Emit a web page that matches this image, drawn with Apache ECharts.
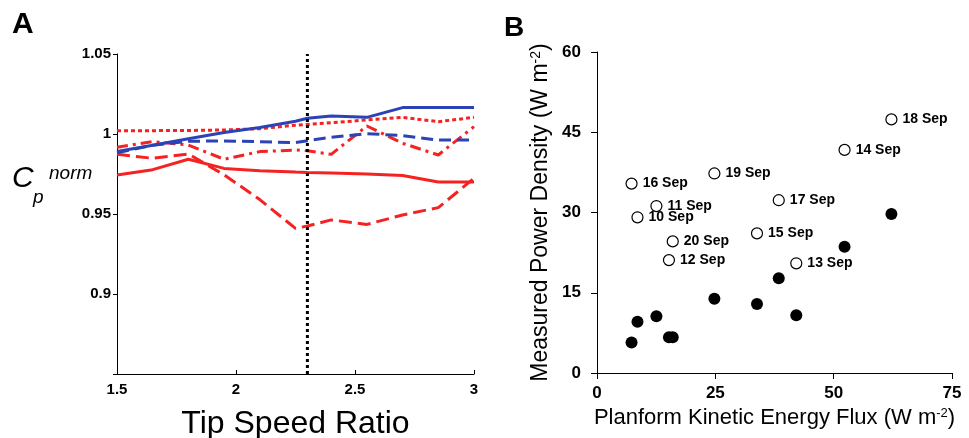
<!DOCTYPE html>
<html>
<head>
<meta charset="utf-8">
<script src="https://cdn.jsdelivr.net/npm/echarts@6/dist/echarts.min.js"></script>
<style>
    html, body { margin: 0; padding: 0; background: #fff; }
    #chart { width: 969px; height: 438px; }
</style>
</head>
<body>
<div id="chart"></div>
<script>
// panel A: normalised Cp against tip speed ratio
var tsr = [1.5, 1.65, 1.8, 1.95, 2.1, 2.25, 2.3, 2.4, 2.55, 2.7, 2.85, 3.0]
var blueSolid = [0.989, 0.993, 0.997, 1.001, 1.004, 1.008, 1.0098, 1.0112, 1.0104, 1.0165, 1.0165, 1.0165]
var blueDashed = [0.9883, 0.993, 0.9955, 0.9956, 0.9952, 0.9946, 0.9958, 0.998, 1.0002, 0.999, 0.9962, 0.9962]
var redDotted = [1.0021, 1.0021, 1.0022, 1.0025, 1.0033, 1.0055, 1.006, 1.007, 1.0088, 1.0104, 1.0077, 1.0104]
var redDashDot = [0.9917, 0.9952, 0.9931, 0.9842, 0.989, 0.99, 0.9895, 0.9873, 1.005, 0.9942, 0.9869, 1.0046]
var redDashed = [0.9873, 0.9848, 0.9875, 0.9745, 0.959, 0.941, 0.9425, 0.9463, 0.9435, 0.9494, 0.954, 0.9723]
var redSolid = [0.9744, 0.9777, 0.9842, 0.9785, 0.977, 0.9762, 0.976, 0.9757, 0.975, 0.974, 0.970, 0.970]
var optimumX = [2.3, 2.3] // dotted vertical marker
var optimumY = [0.85, 1.05]

// panel B: power density against kinetic energy flux
var dates = ['10 Sep', '11 Sep', '12 Sep', '13 Sep', '14 Sep', '15 Sep', '16 Sep', '17 Sep', '18 Sep', '19 Sep', '20 Sep']
var flux = [8.55, 12.55, 15.2, 42.1, 52.3, 33.8, 7.3, 38.4, 62.2, 24.8, 16.0]
var powerOpen = [29.1, 31.2, 21.1, 20.5, 41.7, 26.1, 35.4, 32.3, 47.4, 37.3, 24.6]
var powerFilled = [9.6, 10.6, 6.7, 10.8, 23.6, 12.9, 5.7, 17.7, 29.7, 13.9, 6.7]

;(function () {
    var FONT = 'Liberation Sans, Arial, sans-serif'
    var RED = '#f52222'
    var BLUE = '#2b43b5'

    function pairs(xs, ys) { // zip two arrays into [x, y]
        return xs.map(function (x, i) { return [x, ys[i]] })
    }

    function curve(ys, color, dash) {
        return {
            type: 'line',
            xAxisIndex: 0,
            yAxisIndex: 0,
            data: pairs(tsr, ys),
            symbol: 'none',
            silent: true,
            lineStyle: { color: color, width: 3, type: dash },
        }
    }

    var labelStyle = { color: '#000', fontFamily: FONT, fontWeight: 'bold' }
    var axisLineStyle = { lineStyle: { color: '#000', width: 1 } }

    var myChart = echarts.init(document.getElementById('chart'), null, { renderer: 'canvas' })

    var option = {
        animation: false,
        backgroundColor: '#fff',
        grid: [
            { left: 117, top: 54, width: 357, height: 320, outerBoundsMode: 'none' },
            { left: 597, top: 52, width: 355, height: 321, outerBoundsMode: 'none' },
        ],
        xAxis: [
            {
                gridIndex: 0,
                type: 'value',
                min: 1.5,
                max: 3,
                interval: 0.5,
                splitLine: { show: false },
                axisLine: axisLineStyle,
                axisTick: { inside: true, length: 4, lineStyle: { color: '#000' } },
                axisLabel: Object.assign({ fontSize: 15, margin: 8 }, labelStyle),
                name: 'Tip Speed Ratio',
                nameLocation: 'middle',
                nameGap: 34,
                nameTextStyle: { fontFamily: FONT, fontSize: 32, color: '#000' },
            },
            {
                gridIndex: 1,
                type: 'value',
                min: 0,
                max: 75,
                interval: 25,
                splitLine: { show: false },
                axisLine: axisLineStyle,
                axisTick: { length: 6, lineStyle: { color: '#000' } },
                axisLabel: Object.assign({ fontSize: 17, margin: 12 }, labelStyle),
                name: 'Planform Kinetic Energy Flux (W m{sup|-2})',
                nameLocation: 'middle',
                nameGap: 34,
                nameTextStyle: {
                    fontFamily: FONT, fontSize: 22, color: '#000',
                    rich: { sup: { fontFamily: FONT, fontSize: 13, color: '#000', verticalAlign: 'top' } },
                },
            },
        ],
        yAxis: [
            {
                gridIndex: 0,
                type: 'value',
                min: 0.85,
                max: 1.05,
                interval: 0.05,
                splitLine: { show: false },
                axisLine: axisLineStyle,
                axisTick: { length: 4, lineStyle: { color: '#000' } },
                axisLabel: Object.assign({
                    fontSize: 15,
                    margin: 6,
                    formatter: function (v) { // no label at the bottom
                        return Math.abs(v - 0.85) < 1e-6 ? '' : String(+v.toFixed(2))
                    },
                }, labelStyle),
            },
            {
                gridIndex: 1,
                type: 'value',
                min: 0,
                max: 60,
                interval: 15,
                splitLine: { show: false },
                axisLine: axisLineStyle,
                axisTick: { length: 6, lineStyle: { color: '#000' } },
                axisLabel: Object.assign({ fontSize: 17, margin: 16 }, labelStyle),
                name: 'Measured Power Density (W m{sup|-2})',
                nameLocation: 'middle',
                nameGap: 45,
                nameTextStyle: {
                    fontFamily: FONT, fontSize: 23, color: '#000',
                    rich: { sup: { fontFamily: FONT, fontSize: 14, color: '#000', verticalAlign: 'top' } },
                },
            },
        ],
        series: [
            curve(redSolid, RED, 'solid'),
            curve(redDashed, RED, [13, 6]),
            curve(redDashDot, RED, [11, 5, 3, 5]),
            curve(blueDashed, BLUE, [12, 6]),
            curve(redDotted, RED, [4, 3]),
            curve(blueSolid, BLUE, 'solid'),
            {
                type: 'line',
                xAxisIndex: 0,
                yAxisIndex: 0,
                data: pairs(optimumX, optimumY),
                symbol: 'none',
                silent: true,
                lineStyle: { color: '#000', width: 3, type: [3, 3] },
                z: 5,
            },
            { // filled circles
                type: 'scatter',
                xAxisIndex: 1,
                yAxisIndex: 1,
                data: pairs(flux, powerFilled),
                symbol: 'circle',
                symbolSize: 12,
                itemStyle: { color: '#000', opacity: 1 },
            },
            { // open circles with date labels
                type: 'scatter',
                xAxisIndex: 1,
                yAxisIndex: 1,
                data: pairs(flux, powerOpen),
                symbol: 'circle',
                symbolSize: 11,
                itemStyle: { color: '#fff', borderColor: '#000', borderWidth: 1.2, opacity: 1 },
                label: {
                    show: true,
                    position: 'right',
                    distance: 5,
                    fontFamily: FONT,
                    fontWeight: 'bold',
                    fontSize: 14,
                    color: '#000',
                    formatter: function (p) { return dates[p.dataIndex] },
                },
            },
        ],
        graphic: [
            { type: 'text', left: 12, top: 10, style: { text: 'A', font: 'bold 30px ' + FONT, fill: '#000' } },
            { type: 'text', left: 504, top: 14, style: { text: 'B', font: 'bold 28px ' + FONT, fill: '#000' } },
            { type: 'text', x: 12, y: 179, style: { text: 'C', font: 'italic 30px ' + FONT, fill: '#000', verticalAlign: 'middle' } },
            { type: 'text', x: 33, y: 198, style: { text: 'p', font: 'italic 19px ' + FONT, fill: '#000', verticalAlign: 'middle' } },
            { type: 'text', x: 49, y: 174, style: { text: 'norm', font: 'italic 19px ' + FONT, fill: '#000', verticalAlign: 'middle' } },
        ],
    }

    myChart.setOption(option)
}())
</script>
</body>
</html>
